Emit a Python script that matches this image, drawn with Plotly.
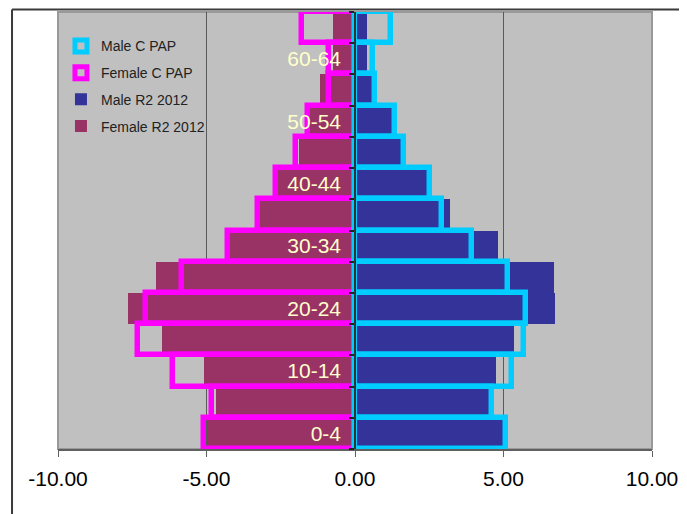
import plotly.graph_objects as go

# ---- data ----
age_groups = ["0-4", "5-9", "10-14", "15-19", "20-24", "25-29", "30-34",
              "35-39", "40-44", "45-49", "50-54", "55-59", "60-64", "65-69"]
age_tick_text = ["0-4", "", "10-14", "", "20-24", "", "30-34",
                 "", "40-44", "", "50-54", "", "60-64", ""]
male_r2_2012 = [4.98, 4.50, 4.75, 5.35, 6.75, 6.70, 4.80,
                3.20, 2.43, 1.55, 1.25, 0.58, 0.41, 0.41]
female_r2_2012 = [-5.00, -4.68, -5.08, -6.50, -7.65, -6.70, -4.20,
                  -3.20, -2.60, -1.90, -1.50, -1.17, -0.75, -0.75]
male_cpap = [5.08, 4.61, 5.28, 5.68, 5.75, 5.14, 3.93,
             2.92, 2.52, 1.65, 1.36, 0.67, 0.62, 1.21]
female_cpap = [-5.08, -4.80, -6.14, -7.32, -7.05, -5.82, -4.28,
               -3.26, -2.66, -1.98, -1.57, -0.86, -0.86, -1.80]
x_tick_vals = [-10, -5, 0, 5, 10]
x_tick_text = ["-10.00", "-5.00", "0.00", "5.00", "10.00"]

FONT = "Liberation Sans, Arial, sans-serif"

fig = go.Figure()
fig.add_trace(go.Bar(y=age_groups, x=male_r2_2012, orientation="h", name="Male R2 2012",
                     legendgroup="m_r2", legendrank=3, width=1,
                     marker=dict(color="#333399", line=dict(width=0))))
fig.add_trace(go.Bar(y=age_groups, x=female_r2_2012, orientation="h", name="Female R2 2012",
                     legendgroup="f_r2", legendrank=4, width=1,
                     marker=dict(color="#993366", line=dict(width=0))))
fig.add_trace(go.Bar(y=age_groups, x=female_cpap, orientation="h", name="Female C PAP",
                     legendgroup="f_cpap", legendrank=2, width=1, cliponaxis=False,
                     marker=dict(color="rgba(0,0,0,0)", line=dict(color="#FF00FF", width=5.5))))
fig.add_trace(go.Bar(y=age_groups, x=male_cpap, orientation="h", name="Male C PAP",
                     legendgroup="m_cpap", legendrank=1, width=1, cliponaxis=False,
                     marker=dict(color="rgba(0,0,0,0)", line=dict(color="#00CCFF", width=5.5))))

fig.update_layout(
    width=679, height=506, autosize=False,
    margin=dict(l=50, r=35, t=3.5, b=65, pad=0),
    paper_bgcolor="white", plot_bgcolor="#C0C0C0",
    barmode="overlay", bargap=0,
    font=dict(family=FONT, color="black"),
    showlegend=True,
    legend=dict(x=0.005, y=0.958, xanchor="left", yanchor="top",
                bgcolor="rgba(0,0,0,0)", borderwidth=0,
                font=dict(family=FONT, size=14, color="#222222"),
                tracegroupgap=5.5, traceorder="grouped"),
    xaxis=dict(range=[-10, 10], tickmode="array", tickvals=x_tick_vals, ticktext=x_tick_text,
               showgrid=True, gridcolor="#5a5a5a", gridwidth=1, zeroline=False,
               showline=True, linecolor="#606060", linewidth=2,
               ticks="outside", ticklen=6, tickcolor="#606060", tickwidth=1,
               tickfont=dict(family=FONT, size=21, color="black"),
               ticklabelstandoff=4, fixedrange=True),
    yaxis=dict(type="category", categoryorder="array", categoryarray=age_groups,
               range=[-0.5, len(age_groups) - 0.5],
               anchor="free", position=0.5,
               tickmode="array", tickvals=age_groups, ticktext=age_tick_text,
               tickson="boundaries", ticks="outside", ticklen=5, tickcolor="#222222", tickwidth=1.5,
               showline=True, linecolor="#333333", linewidth=1.5,
               showgrid=False, zeroline=False,
               tickfont=dict(family=FONT, size=21, color="#FFFFCC"),
               ticklabelstandoff=9, fixedrange=True),
)

# plot-area border (light grey) and outer chart border (dark)
fig.add_shape(type="rect", xref="paper", yref="paper", x0=0, x1=1, y0=0, y1=1,
              line=dict(color="#999999", width=2), layer="between")
fig.add_shape(type="line", xref="paper", yref="paper", x0=-0.0774, x1=1.2, y0=1.006, y1=1.006,
              line=dict(color="#3a3a3a", width=2))
fig.add_shape(type="line", xref="paper", yref="paper", x0=-0.0774, x1=-0.0774, y0=1.006, y1=-0.3,
              line=dict(color="#3a3a3a", width=2))

fig.write_html("out.html")
